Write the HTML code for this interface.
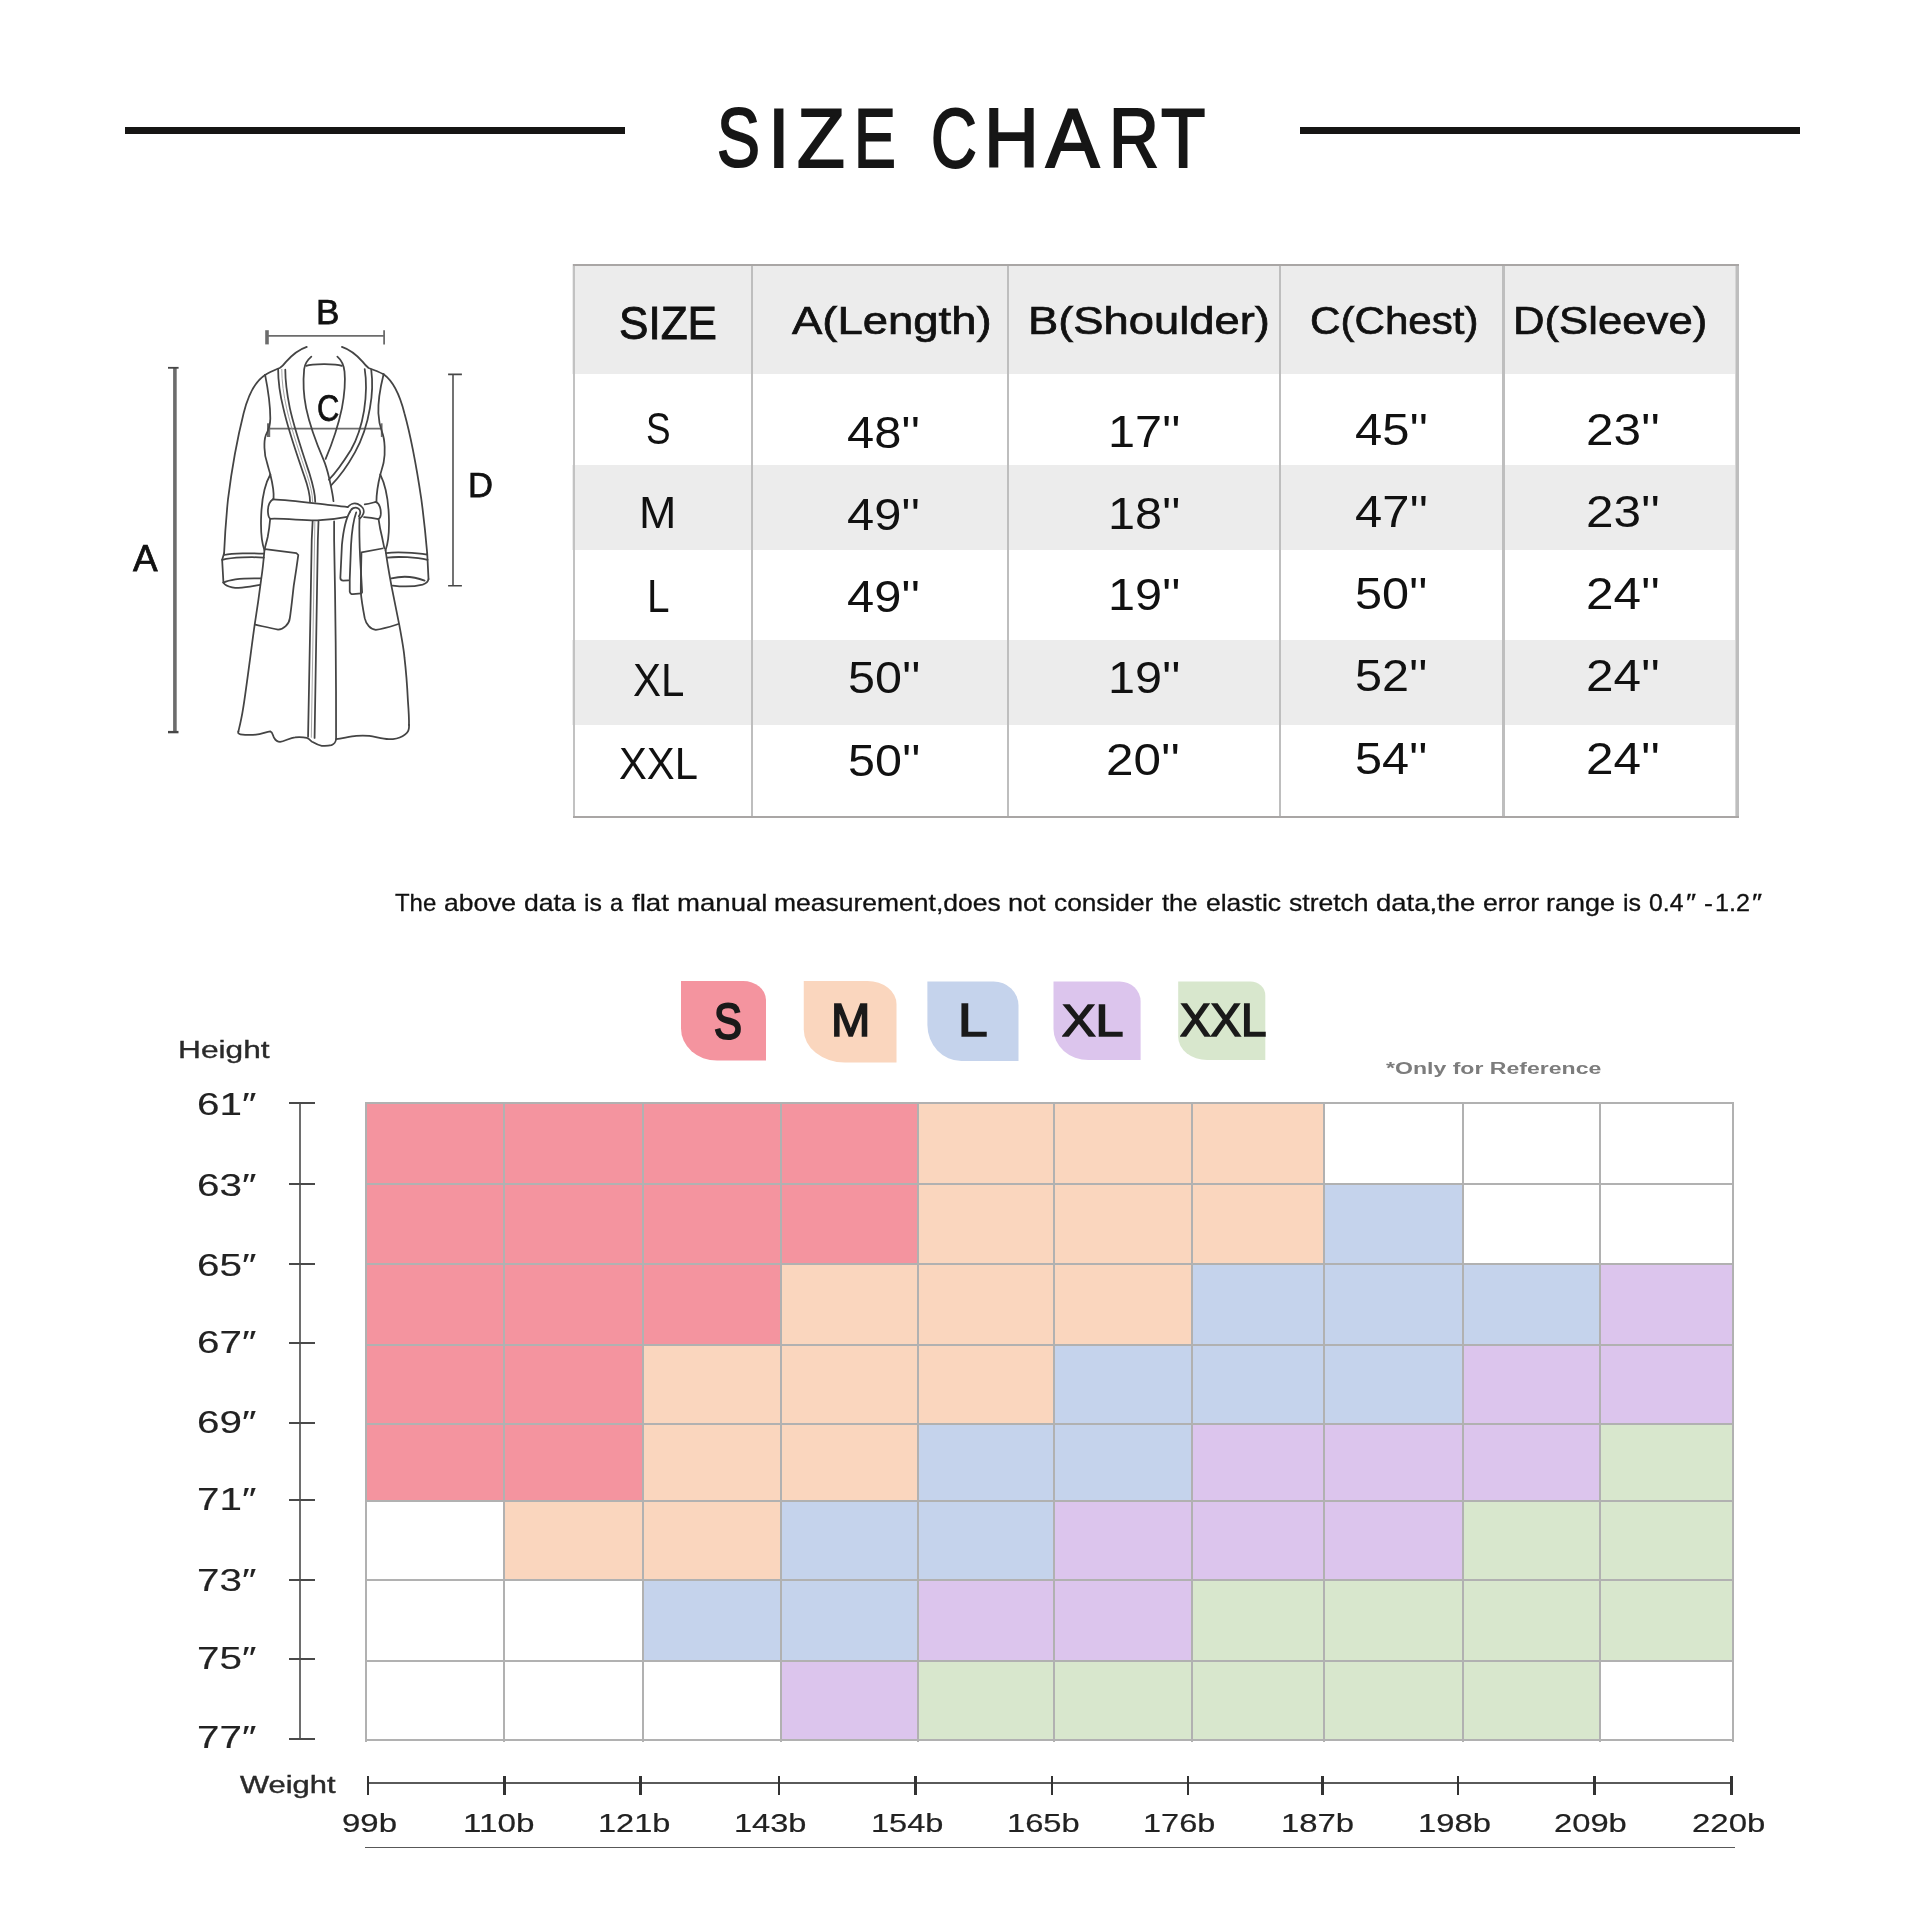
<!DOCTYPE html>
<html><head><meta charset="utf-8"><title>Size Chart</title>
<style>
html,body{margin:0;padding:0;background:#fff;}
body{width:1920px;height:1920px;position:relative;overflow:hidden;font-family:"Liberation Sans", sans-serif;}
.t{position:absolute;white-space:nowrap;line-height:1;transform-origin:0 0;font-family:"Liberation Sans", sans-serif;}
.r{position:absolute;}
svg{position:absolute;left:0;top:0;}
</style></head><body>
<div class="r" style="left:572.40px;top:264.00px;width:1166.60px;height:109.70px;background:#ececec;"></div>
<div class="r" style="left:572.40px;top:465.00px;width:1166.60px;height:84.50px;background:#ececec;"></div>
<div class="r" style="left:572.40px;top:640.00px;width:1166.60px;height:85.00px;background:#ececec;"></div>
<div class="r" style="left:750.60px;top:264.00px;width:2.60px;height:554.00px;background:#bebebe;"></div>
<div class="r" style="left:1006.70px;top:264.00px;width:2.60px;height:554.00px;background:#bebebe;"></div>
<div class="r" style="left:1278.60px;top:264.00px;width:2.60px;height:554.00px;background:#bebebe;"></div>
<div class="r" style="left:1502.45px;top:264.00px;width:2.60px;height:554.00px;background:#bebebe;"></div>
<div class="r" style="left:572.70px;top:264.00px;width:2.00px;height:554.00px;background:#c2c2c2;"></div>
<div class="r" style="left:1735.20px;top:264.00px;width:1.30px;height:554.00px;background:#d6d6d6;"></div>
<div class="r" style="left:1736.40px;top:264.00px;width:2.60px;height:554.00px;background:#bebebe;"></div>
<div class="r" style="left:572.70px;top:264.10px;width:1166.30px;height:1.80px;background:#a9a6a5;"></div>
<div class="r" style="left:572.70px;top:816.10px;width:1166.30px;height:1.80px;background:#a9a6a5;"></div>
<div class="r" style="left:125.00px;top:127.00px;width:500.00px;height:7.00px;background:#161514;"></div>
<div class="r" style="left:1300.00px;top:127.00px;width:500.00px;height:7.00px;background:#161514;"></div>
<div class="r" style="left:365.80px;top:1102.90px;width:138.20px;height:80.80px;background:#f4949f;"></div>
<div class="r" style="left:504.00px;top:1102.90px;width:138.60px;height:80.80px;background:#f4949f;"></div>
<div class="r" style="left:642.60px;top:1102.90px;width:138.60px;height:80.80px;background:#f4949f;"></div>
<div class="r" style="left:781.20px;top:1102.90px;width:137.00px;height:80.80px;background:#f4949f;"></div>
<div class="r" style="left:918.20px;top:1102.90px;width:135.40px;height:80.80px;background:#fad6be;"></div>
<div class="r" style="left:1053.60px;top:1102.90px;width:138.70px;height:80.80px;background:#fad6be;"></div>
<div class="r" style="left:1192.30px;top:1102.90px;width:131.70px;height:80.80px;background:#fad6be;"></div>
<div class="r" style="left:365.80px;top:1183.70px;width:138.20px;height:80.30px;background:#f4949f;"></div>
<div class="r" style="left:504.00px;top:1183.70px;width:138.60px;height:80.30px;background:#f4949f;"></div>
<div class="r" style="left:642.60px;top:1183.70px;width:138.60px;height:80.30px;background:#f4949f;"></div>
<div class="r" style="left:781.20px;top:1183.70px;width:137.00px;height:80.30px;background:#f4949f;"></div>
<div class="r" style="left:918.20px;top:1183.70px;width:135.40px;height:80.30px;background:#fad6be;"></div>
<div class="r" style="left:1053.60px;top:1183.70px;width:138.70px;height:80.30px;background:#fad6be;"></div>
<div class="r" style="left:1192.30px;top:1183.70px;width:131.70px;height:80.30px;background:#fad6be;"></div>
<div class="r" style="left:1324.00px;top:1183.70px;width:139.00px;height:80.30px;background:#c5d3ec;"></div>
<div class="r" style="left:365.80px;top:1264.00px;width:138.20px;height:80.60px;background:#f4949f;"></div>
<div class="r" style="left:504.00px;top:1264.00px;width:138.60px;height:80.60px;background:#f4949f;"></div>
<div class="r" style="left:642.60px;top:1264.00px;width:138.60px;height:80.60px;background:#f4949f;"></div>
<div class="r" style="left:781.20px;top:1264.00px;width:137.00px;height:80.60px;background:#fad6be;"></div>
<div class="r" style="left:918.20px;top:1264.00px;width:135.40px;height:80.60px;background:#fad6be;"></div>
<div class="r" style="left:1053.60px;top:1264.00px;width:138.70px;height:80.60px;background:#fad6be;"></div>
<div class="r" style="left:1192.30px;top:1264.00px;width:131.70px;height:80.60px;background:#c5d3ec;"></div>
<div class="r" style="left:1324.00px;top:1264.00px;width:139.00px;height:80.60px;background:#c5d3ec;"></div>
<div class="r" style="left:1463.00px;top:1264.00px;width:136.60px;height:80.60px;background:#c5d3ec;"></div>
<div class="r" style="left:1599.60px;top:1264.00px;width:133.40px;height:80.60px;background:#dcc5ed;"></div>
<div class="r" style="left:365.80px;top:1344.60px;width:138.20px;height:78.90px;background:#f4949f;"></div>
<div class="r" style="left:504.00px;top:1344.60px;width:138.60px;height:78.90px;background:#f4949f;"></div>
<div class="r" style="left:642.60px;top:1344.60px;width:138.60px;height:78.90px;background:#fad6be;"></div>
<div class="r" style="left:781.20px;top:1344.60px;width:137.00px;height:78.90px;background:#fad6be;"></div>
<div class="r" style="left:918.20px;top:1344.60px;width:135.40px;height:78.90px;background:#fad6be;"></div>
<div class="r" style="left:1053.60px;top:1344.60px;width:138.70px;height:78.90px;background:#c5d3ec;"></div>
<div class="r" style="left:1192.30px;top:1344.60px;width:131.70px;height:78.90px;background:#c5d3ec;"></div>
<div class="r" style="left:1324.00px;top:1344.60px;width:139.00px;height:78.90px;background:#c5d3ec;"></div>
<div class="r" style="left:1463.00px;top:1344.60px;width:136.60px;height:78.90px;background:#dcc5ed;"></div>
<div class="r" style="left:1599.60px;top:1344.60px;width:133.40px;height:78.90px;background:#dcc5ed;"></div>
<div class="r" style="left:365.80px;top:1423.50px;width:138.20px;height:77.70px;background:#f4949f;"></div>
<div class="r" style="left:504.00px;top:1423.50px;width:138.60px;height:77.70px;background:#f4949f;"></div>
<div class="r" style="left:642.60px;top:1423.50px;width:138.60px;height:77.70px;background:#fad6be;"></div>
<div class="r" style="left:781.20px;top:1423.50px;width:137.00px;height:77.70px;background:#fad6be;"></div>
<div class="r" style="left:918.20px;top:1423.50px;width:135.40px;height:77.70px;background:#c5d3ec;"></div>
<div class="r" style="left:1053.60px;top:1423.50px;width:138.70px;height:77.70px;background:#c5d3ec;"></div>
<div class="r" style="left:1192.30px;top:1423.50px;width:131.70px;height:77.70px;background:#dcc5ed;"></div>
<div class="r" style="left:1324.00px;top:1423.50px;width:139.00px;height:77.70px;background:#dcc5ed;"></div>
<div class="r" style="left:1463.00px;top:1423.50px;width:136.60px;height:77.70px;background:#dcc5ed;"></div>
<div class="r" style="left:1599.60px;top:1423.50px;width:133.40px;height:77.70px;background:#d8e7cd;"></div>
<div class="r" style="left:504.00px;top:1501.20px;width:138.60px;height:78.80px;background:#fad6be;"></div>
<div class="r" style="left:642.60px;top:1501.20px;width:138.60px;height:78.80px;background:#fad6be;"></div>
<div class="r" style="left:781.20px;top:1501.20px;width:137.00px;height:78.80px;background:#c5d3ec;"></div>
<div class="r" style="left:918.20px;top:1501.20px;width:135.40px;height:78.80px;background:#c5d3ec;"></div>
<div class="r" style="left:1053.60px;top:1501.20px;width:138.70px;height:78.80px;background:#dcc5ed;"></div>
<div class="r" style="left:1192.30px;top:1501.20px;width:131.70px;height:78.80px;background:#dcc5ed;"></div>
<div class="r" style="left:1324.00px;top:1501.20px;width:139.00px;height:78.80px;background:#dcc5ed;"></div>
<div class="r" style="left:1463.00px;top:1501.20px;width:136.60px;height:78.80px;background:#d8e7cd;"></div>
<div class="r" style="left:1599.60px;top:1501.20px;width:133.40px;height:78.80px;background:#d8e7cd;"></div>
<div class="r" style="left:642.60px;top:1580.00px;width:138.60px;height:80.60px;background:#c5d3ec;"></div>
<div class="r" style="left:781.20px;top:1580.00px;width:137.00px;height:80.60px;background:#c5d3ec;"></div>
<div class="r" style="left:918.20px;top:1580.00px;width:135.40px;height:80.60px;background:#dcc5ed;"></div>
<div class="r" style="left:1053.60px;top:1580.00px;width:138.70px;height:80.60px;background:#dcc5ed;"></div>
<div class="r" style="left:1192.30px;top:1580.00px;width:131.70px;height:80.60px;background:#d8e7cd;"></div>
<div class="r" style="left:1324.00px;top:1580.00px;width:139.00px;height:80.60px;background:#d8e7cd;"></div>
<div class="r" style="left:1463.00px;top:1580.00px;width:136.60px;height:80.60px;background:#d8e7cd;"></div>
<div class="r" style="left:1599.60px;top:1580.00px;width:133.40px;height:80.60px;background:#d8e7cd;"></div>
<div class="r" style="left:781.20px;top:1660.60px;width:137.00px;height:78.90px;background:#dcc5ed;"></div>
<div class="r" style="left:918.20px;top:1660.60px;width:135.40px;height:78.90px;background:#d8e7cd;"></div>
<div class="r" style="left:1053.60px;top:1660.60px;width:138.70px;height:78.90px;background:#d8e7cd;"></div>
<div class="r" style="left:1192.30px;top:1660.60px;width:131.70px;height:78.90px;background:#d8e7cd;"></div>
<div class="r" style="left:1324.00px;top:1660.60px;width:139.00px;height:78.90px;background:#d8e7cd;"></div>
<div class="r" style="left:1463.00px;top:1660.60px;width:136.60px;height:78.90px;background:#d8e7cd;"></div>
<div class="r" style="left:364.80px;top:1101.90px;width:2.00px;height:640.60px;background:#b1b1b1;"></div>
<div class="r" style="left:503.00px;top:1101.90px;width:2.00px;height:640.60px;background:#b1b1b1;"></div>
<div class="r" style="left:641.60px;top:1101.90px;width:2.00px;height:640.60px;background:#b1b1b1;"></div>
<div class="r" style="left:780.20px;top:1101.90px;width:2.00px;height:640.60px;background:#b1b1b1;"></div>
<div class="r" style="left:917.20px;top:1101.90px;width:2.00px;height:640.60px;background:#b1b1b1;"></div>
<div class="r" style="left:1052.60px;top:1101.90px;width:2.00px;height:640.60px;background:#b1b1b1;"></div>
<div class="r" style="left:1191.30px;top:1101.90px;width:2.00px;height:640.60px;background:#b1b1b1;"></div>
<div class="r" style="left:1323.00px;top:1101.90px;width:2.00px;height:640.60px;background:#b1b1b1;"></div>
<div class="r" style="left:1462.00px;top:1101.90px;width:2.00px;height:640.60px;background:#b1b1b1;"></div>
<div class="r" style="left:1598.60px;top:1101.90px;width:2.00px;height:640.60px;background:#b1b1b1;"></div>
<div class="r" style="left:1732.00px;top:1101.90px;width:2.00px;height:640.60px;background:#b1b1b1;"></div>
<div class="r" style="left:364.80px;top:1101.90px;width:1369.20px;height:2.00px;background:#b1b1b1;"></div>
<div class="r" style="left:364.80px;top:1182.70px;width:1369.20px;height:2.00px;background:#b1b1b1;"></div>
<div class="r" style="left:364.80px;top:1263.00px;width:1369.20px;height:2.00px;background:#b1b1b1;"></div>
<div class="r" style="left:364.80px;top:1343.60px;width:1369.20px;height:2.00px;background:#b1b1b1;"></div>
<div class="r" style="left:364.80px;top:1422.50px;width:1369.20px;height:2.00px;background:#b1b1b1;"></div>
<div class="r" style="left:364.80px;top:1500.20px;width:1369.20px;height:2.00px;background:#b1b1b1;"></div>
<div class="r" style="left:364.80px;top:1579.00px;width:1369.20px;height:2.00px;background:#b1b1b1;"></div>
<div class="r" style="left:364.80px;top:1659.60px;width:1369.20px;height:2.00px;background:#b1b1b1;"></div>
<div class="r" style="left:364.80px;top:1738.50px;width:1369.20px;height:2.00px;background:#b1b1b1;"></div>
<div class="r" style="left:299.00px;top:1102.00px;width:2.00px;height:637.50px;background:#6e6e6e;"></div>
<div class="r" style="left:289.00px;top:1102.10px;width:26.00px;height:2.00px;background:#4a4a4a;"></div>
<div class="r" style="left:289.00px;top:1182.60px;width:26.00px;height:2.00px;background:#4a4a4a;"></div>
<div class="r" style="left:289.00px;top:1262.80px;width:26.00px;height:2.00px;background:#4a4a4a;"></div>
<div class="r" style="left:289.00px;top:1341.60px;width:26.00px;height:2.00px;background:#4a4a4a;"></div>
<div class="r" style="left:289.00px;top:1422.20px;width:26.00px;height:2.00px;background:#4a4a4a;"></div>
<div class="r" style="left:289.00px;top:1498.80px;width:26.00px;height:2.00px;background:#4a4a4a;"></div>
<div class="r" style="left:289.00px;top:1579.10px;width:26.00px;height:2.00px;background:#4a4a4a;"></div>
<div class="r" style="left:289.00px;top:1658.20px;width:26.00px;height:2.00px;background:#4a4a4a;"></div>
<div class="r" style="left:289.00px;top:1738.40px;width:26.00px;height:2.00px;background:#4a4a4a;"></div>
<div class="r" style="left:367.00px;top:1782.30px;width:1364.50px;height:2.00px;background:#5a5a5a;"></div>
<div class="r" style="left:366.85px;top:1775.60px;width:2.50px;height:19.60px;background:#333;"></div>
<div class="r" style="left:503.05px;top:1775.60px;width:2.50px;height:19.60px;background:#333;"></div>
<div class="r" style="left:639.15px;top:1775.60px;width:2.50px;height:19.60px;background:#333;"></div>
<div class="r" style="left:777.75px;top:1775.60px;width:2.50px;height:19.60px;background:#333;"></div>
<div class="r" style="left:914.35px;top:1775.60px;width:2.50px;height:19.60px;background:#333;"></div>
<div class="r" style="left:1050.65px;top:1775.60px;width:2.50px;height:19.60px;background:#333;"></div>
<div class="r" style="left:1186.75px;top:1775.60px;width:2.50px;height:19.60px;background:#333;"></div>
<div class="r" style="left:1321.00px;top:1775.60px;width:2.50px;height:19.60px;background:#333;"></div>
<div class="r" style="left:1456.65px;top:1775.60px;width:2.50px;height:19.60px;background:#333;"></div>
<div class="r" style="left:1593.15px;top:1775.60px;width:2.50px;height:19.60px;background:#333;"></div>
<div class="r" style="left:1730.05px;top:1775.60px;width:2.50px;height:19.60px;background:#333;"></div>
<div class="r" style="left:365.00px;top:1846.60px;width:1369.50px;height:1.80px;background:#585858;"></div>
<svg width="1920" height="1920" viewBox="0 0 1920 1920">
<path d="M681,981 L743,981 A23,19 0 0 1 766,1000 L766,1060.6 L717,1060.6 A36,32 0 0 1 681,1028.6 Z" fill="#f4949f"/><path d="M803.75,981 L867.5,981 A29,23 0 0 1 896.5,1004 L896.5,1062.5 L844.75,1062.5 A41,33 0 0 1 803.75,1029.5 Z" fill="#fad6be"/><path d="M927.4,981.5 L993.5,981.5 A25,24 0 0 1 1018.5,1005.5 L1018.5,1061 L961.4,1061 A34,36 0 0 1 927.4,1025 Z" fill="#c5d3ec"/><path d="M1053.5,981.5 L1119.6,981.5 A21,20 0 0 1 1140.6,1001.5 L1140.6,1060 L1088.5,1060 A35,31 0 0 1 1053.5,1029 Z" fill="#dcc5ed"/><path d="M1178.2,981.5 L1250.3,981.5 A15,14 0 0 1 1265.3,995.5 L1265.3,1060 L1207.2,1060 A29,23 0 0 1 1178.2,1037 Z" fill="#d8e7cd"/>
<g fill="none" stroke-linecap="butt">
 <!-- measurement lines -->
 <g stroke="#6c6c6c">
  <path d="M174.9,368 V731.5" stroke-width="3.6"/>
  <path d="M267,335.8 H384.5" stroke-width="1.8"/>
  <path d="M267,330.2 V344.4" stroke-width="3.6"/>
  <path d="M384.1,330.2 V344.4" stroke-width="1.8"/>
  <path d="M268.5,428.7 H382" stroke-width="1.8"/>
  <path d="M268.6,423.3 V437" stroke-width="3.2"/>
  <path d="M381.7,423.3 V437" stroke-width="1.7"/>
  <path d="M453,374 V586" stroke-width="1.9"/>
 </g>
 <g stroke="#474747">
  <path d="M168,367.8 H178.6" stroke-width="1.8"/>
  <path d="M168,732.1 H178.5" stroke-width="2.4"/>
  <path d="M448.1,374.4 H461.9 M448.1,585.7 H461.9" stroke-width="1.6"/>
 </g>
 <!-- robe -->
 <g transform="translate(200,330) scale(0.130208)" stroke="#444" stroke-width="13.5" stroke-linecap="round" stroke-linejoin="round">
  <path d="M820,130 C760,150 700,200 660,245 C645,265 630,280 615,290 C580,305 540,320 500,345"/>
  <path d="M500,345 C430,390 370,500 335,640 C290,820 240,1100 215,1300 C200,1450 190,1600 185,1715"/>
  <path d="M1090,130 C1150,150 1210,200 1250,245 C1265,265 1280,280 1295,292 C1330,305 1370,320 1410,340"/>
  <path d="M1410,340 C1480,390 1535,500 1570,640 C1620,820 1670,1100 1700,1300 C1720,1450 1735,1600 1745,1715"/>
  <path d="M855,205 C820,235 805,260 800,300 C790,400 795,500 815,600 C840,720 890,860 950,1000 C975,1060 985,1110 995,1150 C1005,1200 1020,1260 1025,1315"/>
  <path d="M1055,205 C1090,235 1105,270 1110,320 C1120,420 1105,520 1090,600 C1065,720 1020,860 965,990"/>
  <path d="M815,275 C860,258 1040,256 1090,275"/>
  <path d="M600,300 C600,400 615,500 640,600 C680,780 760,1000 800,1120 C825,1190 845,1260 845,1320"/>
  <path d="M655,305 C655,400 670,500 690,600 C725,760 800,980 840,1100 C865,1180 885,1250 885,1320"/>
  <path d="M628,302 C628,400 643,500 665,600 C703,770 780,990 820,1110 C845,1185 865,1255 865,1320" stroke="#9a9a9a" stroke-width="7"/>
  <path d="M1315,305 C1330,420 1320,520 1305,600 C1285,720 1240,850 1190,940 C1140,1030 1070,1130 1005,1195"/>
  <path d="M1265,300 C1285,420 1275,520 1260,620 C1240,740 1200,850 1160,920 C1110,1000 1050,1090 990,1150"/>
  <path d="M500,345 C515,420 540,560 540,680 C540,740 520,780 505,810 C490,850 490,950 515,1020 C525,1060 535,1090 540,1110 C555,1170 570,1240 565,1300"/>
  <path d="M540,1110 C500,1180 475,1300 470,1420 C465,1540 475,1640 495,1690"/>
  <path d="M1410,340 C1390,420 1365,520 1370,640 C1372,700 1385,750 1400,790 C1420,840 1425,950 1410,1020 C1400,1060 1390,1090 1385,1110 C1370,1170 1355,1240 1355,1320"/>
  <path d="M1385,1110 C1420,1180 1445,1300 1450,1420 C1455,1540 1445,1640 1425,1690"/>
  <!-- belt -->
  <path d="M560,1300 C530,1320 520,1360 522,1400 C524,1430 530,1445 540,1450"/>
  <path d="M560,1300 C700,1305 900,1335 1000,1345 C1050,1350 1100,1355 1135,1360"/>
  <path d="M540,1450 C650,1445 800,1465 900,1462 C1000,1458 1080,1445 1130,1435"/>
  <path d="M1265,1340 C1300,1335 1330,1325 1350,1320 C1380,1330 1392,1380 1388,1420 C1385,1440 1378,1450 1370,1452 C1330,1445 1290,1440 1260,1437"/>
  <path d="M1135,1360 C1150,1340 1180,1325 1210,1335 C1245,1350 1265,1380 1255,1410 C1250,1425 1240,1440 1225,1450"/>
  <path d="M1150,1400 C1160,1370 1190,1355 1215,1370 C1235,1385 1235,1410 1220,1430"/>
  <path d="M1150,1400 C1120,1450 1100,1550 1090,1650 L1078,1903 C1078,1920 1090,1925 1100,1925 L1140,1923"/>
  <path d="M1200,1400 C1175,1470 1165,1560 1160,1650 L1150,1915 L1150,2010 C1152,2025 1165,2030 1175,2028 L1240,2023"/>
  <path d="M1225,1440 C1222,1550 1225,1650 1230,1750 L1245,2015"/>
  <!-- placket -->
  <path d="M865,1470 L858,1613 C850,2100 838,2700 830,3123"/>
  <path d="M910,1470 L905,1613 C897,2100 887,2700 880,3133"/>
  <path d="M1030,1470 L1030,1613 C1040,2100 1046,2700 1045,3143"/>
  <path d="M539,1450 C535,1500 528,1551 520,1590 C512,1625 502,1655 497,1683"/>
  <path d="M1371,1450 C1378,1500 1388,1551 1398,1590 C1405,1625 1412,1655 1416,1678"/>
  <path d="M882,1470 L880,1613 C872,2100 862,2700 855,3128" stroke="#aaa" stroke-width="8"/>
  <!-- left cuff -->
  <path d="M185,1728 C250,1715 400,1712 490,1718"/>
  <path d="M170,1765 C250,1745 400,1742 490,1748"/>
  <path d="M185,1715 L170,1765 L180,1940"/>
  <path d="M180,1940 C230,1915 350,1905 470,1908"/>
  <path d="M180,1940 C200,1975 280,1990 350,1975 C400,1970 440,1960 462,1958"/>
  <!-- left side & pocket -->
  <path d="M495,1690 C490,1750 480,1850 470,1913 C450,2070 430,2200 420,2263 C400,2400 350,2800 330,2913 C318,2990 300,3060 295,3083"/>
  <path d="M500,1683 L740,1713 L755,1728 C745,1800 730,1900 720,1963 C710,2050 700,2150 690,2213 C685,2260 640,2300 600,2301 C540,2290 480,2275 425,2263"/>
  <!-- hem -->
  <path d="M295,3083 C290,3095 295,3103 310,3105 C350,3110 400,3110 430,3108 C470,3105 510,3085 540,3083 C560,3090 560,3120 570,3133 C580,3150 595,3163 615,3163 C650,3160 690,3130 730,3128 C770,3125 800,3128 820,3133 C840,3140 850,3155 865,3165 C890,3180 910,3190 935,3193 C960,3195 990,3193 1010,3188 C1030,3180 1042,3170 1045,3143 C1100,3135 1160,3122 1200,3118 C1240,3114 1270,3115 1300,3118 C1350,3125 1400,3140 1450,3143 C1490,3143 1530,3135 1555,3120 C1580,3105 1598,3090 1602,3070 C1606,3055 1606,3045 1605,3033"/>
  <!-- right side & pocket -->
  <path d="M1425,1690 C1440,1800 1455,1880 1470,1963 C1490,2060 1510,2160 1530,2263 C1550,2370 1565,2450 1570,2513 C1585,2640 1592,2750 1597,2850 C1603,2930 1606,2990 1605,3033"/>
  <path d="M1400,1678 L1240,1708 C1238,1800 1235,1900 1235,2013 C1240,2080 1255,2160 1265,2213 C1275,2260 1310,2300 1350,2303 C1410,2295 1470,2275 1525,2258"/>
  <!-- right cuff -->
  <path d="M1430,1713 C1500,1705 1650,1708 1745,1725"/>
  <path d="M1440,1748 C1520,1738 1660,1745 1748,1765"/>
  <path d="M1470,1908 C1550,1888 1650,1895 1725,1925"/>
  <path d="M1480,1963 C1550,1972 1650,1970 1710,1955 C1740,1945 1752,1930 1755,1913"/>
  <path d="M1745,1715 L1755,1913"/>
 </g>
</g>

</svg>
<div style="position:absolute;left:0;top:0;width:1920px;height:1920px;will-change:transform">
<div class="t" style="left:717.18px;top:96.98px;font-size:82.96px;transform:scaleX(0.7762);color:#161616;-webkit-text-stroke:2.2px #161616;">S</div>
<div class="t" style="left:767.52px;top:95.92px;font-size:84.20px;transform:scaleX(0.9228);color:#161616;-webkit-text-stroke:2.2px #161616;">I</div>
<div class="t" style="left:797.47px;top:95.92px;font-size:84.20px;transform:scaleX(0.9297);color:#161616;-webkit-text-stroke:2.2px #161616;">Z</div>
<div class="t" style="left:854.01px;top:95.92px;font-size:84.20px;transform:scaleX(0.7442);color:#161616;-webkit-text-stroke:2.2px #161616;">E</div>
<div class="t" style="left:930.96px;top:95.97px;font-size:84.14px;transform:scaleX(0.7529);color:#161616;-webkit-text-stroke:2.2px #161616;">C</div>
<div class="t" style="left:983.61px;top:95.92px;font-size:84.20px;transform:scaleX(0.9025);color:#161616;-webkit-text-stroke:2.2px #161616;">H</div>
<div class="t" style="left:1046.04px;top:95.92px;font-size:84.20px;transform:scaleX(0.9468);color:#161616;-webkit-text-stroke:2.2px #161616;">A</div>
<div class="t" style="left:1108.90px;top:96.94px;font-size:83.00px;transform:scaleX(0.8308);color:#161616;-webkit-text-stroke:2.2px #161616;">R</div>
<div class="t" style="left:1161.40px;top:95.92px;font-size:84.20px;transform:scaleX(0.8626);color:#161616;-webkit-text-stroke:2.2px #161616;">T</div>
<div class="t" style="left:619.41px;top:300.30px;font-size:46.90px;transform:scaleX(0.9406);color:#111;-webkit-text-stroke:0.9px #111;">SIZE</div>
<div class="t" style="left:792.40px;top:300.74px;font-size:39.59px;transform:scaleX(1.1481);color:#111;-webkit-text-stroke:0.7px #111;">A(Length)</div>
<div class="t" style="left:1028.02px;top:300.74px;font-size:39.59px;transform:scaleX(1.1455);color:#111;-webkit-text-stroke:0.7px #111;">B(Shoulder)</div>
<div class="t" style="left:1309.52px;top:300.74px;font-size:39.59px;transform:scaleX(1.0645);color:#111;-webkit-text-stroke:0.7px #111;">C(Chest)</div>
<div class="t" style="left:1512.64px;top:300.74px;font-size:39.59px;transform:scaleX(1.1039);color:#111;-webkit-text-stroke:0.7px #111;">D(Sleeve)</div>
<div class="t" style="left:645.53px;top:406.35px;font-size:45.07px;transform:scaleX(0.8179);color:#111;">S</div>
<div class="t" style="left:638.91px;top:490.41px;font-size:45.29px;transform:scaleX(0.9904);color:#111;">M</div>
<div class="t" style="left:647.26px;top:573.86px;font-size:45.65px;transform:scaleX(0.8884);color:#111;">L</div>
<div class="t" style="left:633.41px;top:658.36px;font-size:45.65px;transform:scaleX(0.9212);color:#111;">XL</div>
<div class="t" style="left:619.16px;top:742.47px;font-size:44.93px;transform:scaleX(0.9294);color:#111;">XXL</div>
<div class="t" style="left:847.02px;top:410.51px;font-size:44.29px;transform:scaleX(1.1029);color:#111;">48''</div>
<div class="t" style="left:847.02px;top:492.51px;font-size:44.29px;transform:scaleX(1.1029);color:#111;">49''</div>
<div class="t" style="left:847.02px;top:575.01px;font-size:44.29px;transform:scaleX(1.1029);color:#111;">49''</div>
<div class="t" style="left:847.56px;top:656.26px;font-size:44.29px;transform:scaleX(1.0945);color:#111;">50''</div>
<div class="t" style="left:847.56px;top:738.51px;font-size:44.29px;transform:scaleX(1.0945);color:#111;">50''</div>
<div class="t" style="left:1107.60px;top:410.01px;font-size:44.29px;transform:scaleX(1.0978);color:#111;">17''</div>
<div class="t" style="left:1107.60px;top:491.76px;font-size:44.29px;transform:scaleX(1.0978);color:#111;">18''</div>
<div class="t" style="left:1107.60px;top:573.11px;font-size:44.29px;transform:scaleX(1.0978);color:#111;">19''</div>
<div class="t" style="left:1107.60px;top:656.26px;font-size:44.29px;transform:scaleX(1.0978);color:#111;">19''</div>
<div class="t" style="left:1106.43px;top:738.01px;font-size:44.29px;transform:scaleX(1.1160);color:#111;">20''</div>
<div class="t" style="left:1354.62px;top:408.11px;font-size:44.29px;transform:scaleX(1.1044);color:#111;">45''</div>
<div class="t" style="left:1354.62px;top:489.91px;font-size:44.29px;transform:scaleX(1.1044);color:#111;">47''</div>
<div class="t" style="left:1355.06px;top:572.01px;font-size:44.29px;transform:scaleX(1.0977);color:#111;">50''</div>
<div class="t" style="left:1355.06px;top:654.41px;font-size:44.29px;transform:scaleX(1.0977);color:#111;">52''</div>
<div class="t" style="left:1355.06px;top:736.91px;font-size:44.29px;transform:scaleX(1.0977);color:#111;">54''</div>
<div class="t" style="left:1586.33px;top:408.11px;font-size:44.29px;transform:scaleX(1.1168);color:#111;">23''</div>
<div class="t" style="left:1586.33px;top:489.91px;font-size:44.29px;transform:scaleX(1.1168);color:#111;">23''</div>
<div class="t" style="left:1586.33px;top:572.01px;font-size:44.29px;transform:scaleX(1.1168);color:#111;">24''</div>
<div class="t" style="left:1586.33px;top:654.41px;font-size:44.29px;transform:scaleX(1.1168);color:#111;">24''</div>
<div class="t" style="left:1586.33px;top:736.91px;font-size:44.29px;transform:scaleX(1.1168);color:#111;">24''</div>
<div class="t" style="left:316.28px;top:295.02px;font-size:34.24px;transform:scaleX(1.0240);color:#111;-webkit-text-stroke:0.75px #111;">B</div>
<div class="t" style="left:316.76px;top:389.89px;font-size:37.46px;transform:scaleX(0.8250);color:#111;-webkit-text-stroke:0.75px #111;">C</div>
<div class="t" style="left:468.10px;top:467.90px;font-size:34.96px;transform:scaleX(0.9895);color:#111;-webkit-text-stroke:0.75px #111;">D</div>
<div class="t" style="left:133.38px;top:540.68px;font-size:36.41px;transform:scaleX(1.0140);color:#111;-webkit-text-stroke:0.75px #111;">A</div>
<div class="t" style="left:394.97px;top:891.38px;font-size:24.00px;transform:scaleX(0.9973);color:#111;-webkit-text-stroke:0.3px #111;">The</div>
<div class="t" style="left:443.71px;top:891.38px;font-size:24.00px;transform:scaleX(1.1024);color:#111;-webkit-text-stroke:0.3px #111;">above</div>
<div class="t" style="left:523.70px;top:891.38px;font-size:24.00px;transform:scaleX(1.1074);color:#111;-webkit-text-stroke:0.3px #111;">data</div>
<div class="t" style="left:583.97px;top:891.38px;font-size:24.00px;transform:scaleX(1.0341);color:#111;-webkit-text-stroke:0.3px #111;">is</div>
<div class="t" style="left:609.61px;top:891.38px;font-size:24.00px;transform:scaleX(0.9781);color:#111;-webkit-text-stroke:0.3px #111;">a</div>
<div class="t" style="left:631.90px;top:891.38px;font-size:24.00px;transform:scaleX(1.1548);color:#111;-webkit-text-stroke:0.3px #111;">flat</div>
<div class="t" style="left:676.72px;top:891.38px;font-size:24.00px;transform:scaleX(1.1487);color:#111;-webkit-text-stroke:0.3px #111;">manual</div>
<div class="t" style="left:774.18px;top:891.38px;font-size:24.00px;transform:scaleX(1.1037);color:#111;-webkit-text-stroke:0.3px #111;">measurement,does</div>
<div class="t" style="left:1008.45px;top:891.38px;font-size:24.00px;transform:scaleX(1.1278);color:#111;-webkit-text-stroke:0.3px #111;">not</div>
<div class="t" style="left:1054.31px;top:891.38px;font-size:24.00px;transform:scaleX(1.0942);color:#111;-webkit-text-stroke:0.3px #111;">consider</div>
<div class="t" style="left:1162.40px;top:891.38px;font-size:24.00px;transform:scaleX(1.0659);color:#111;-webkit-text-stroke:0.3px #111;">the</div>
<div class="t" style="left:1205.91px;top:891.38px;font-size:24.00px;transform:scaleX(1.1033);color:#111;-webkit-text-stroke:0.3px #111;">elastic</div>
<div class="t" style="left:1289.04px;top:891.38px;font-size:24.00px;transform:scaleX(1.1050);color:#111;-webkit-text-stroke:0.3px #111;">stretch</div>
<div class="t" style="left:1375.97px;top:891.38px;font-size:24.00px;transform:scaleX(1.1442);color:#111;-webkit-text-stroke:0.3px #111;">data,the</div>
<div class="t" style="left:1482.60px;top:891.38px;font-size:24.00px;transform:scaleX(1.1087);color:#111;-webkit-text-stroke:0.3px #111;">error</div>
<div class="t" style="left:1546.25px;top:891.38px;font-size:24.00px;transform:scaleX(1.1250);color:#111;-webkit-text-stroke:0.3px #111;">range</div>
<div class="t" style="left:1623.06px;top:891.38px;font-size:24.00px;transform:scaleX(1.0406);color:#111;-webkit-text-stroke:0.3px #111;">is</div>
<div class="t" style="left:1649.11px;top:891.38px;font-size:24.00px;transform:scaleX(1.0305);color:#111;-webkit-text-stroke:0.3px #111;">0.4</div>
<div class="t" style="left:1685.74px;top:891.38px;font-size:24.00px;transform:scaleX(1.1867);color:#111;-webkit-text-stroke:0.3px #111;">″</div>
<div class="t" style="left:1704.10px;top:891.38px;font-size:24.00px;transform:scaleX(1.1111);color:#111;-webkit-text-stroke:0.3px #111;">-</div>
<div class="t" style="left:1715.10px;top:891.38px;font-size:24.00px;transform:scaleX(1.0461);color:#111;-webkit-text-stroke:0.3px #111;">1.2</div>
<div class="t" style="left:1751.84px;top:891.38px;font-size:24.00px;transform:scaleX(1.1867);color:#111;-webkit-text-stroke:0.3px #111;">″</div>
<div class="t" style="left:714.26px;top:997.09px;font-size:49.51px;transform:scaleX(0.8437);color:#1a1a1a;-webkit-text-stroke:2.2px #1a1a1a;">S</div>
<div class="t" style="left:830.78px;top:997.21px;font-size:46.88px;transform:scaleX(1.0080);color:#1a1a1a;-webkit-text-stroke:1.6px #1a1a1a;">M</div>
<div class="t" style="left:957.68px;top:997.66px;font-size:45.65px;transform:scaleX(1.1651);color:#1a1a1a;-webkit-text-stroke:1.6px #1a1a1a;">L</div>
<div class="t" style="left:1062.29px;top:998.39px;font-size:44.78px;transform:scaleX(1.1232);color:#1a1a1a;-webkit-text-stroke:1.6px #1a1a1a;">XL</div>
<div class="t" style="left:1180.09px;top:998.26px;font-size:45.65px;transform:scaleX(1.0037);color:#1a1a1a;-webkit-text-stroke:1.6px #1a1a1a;">XXL</div>
<div class="t" style="left:1386.30px;top:1059.97px;font-size:17.40px;transform:scaleX(1.3261);color:#7c7c7c;font-weight:bold;">*Only for Reference</div>
<div class="t" style="left:178.09px;top:1038.33px;font-size:24.42px;transform:scaleX(1.2979);color:#2a2a2a;-webkit-text-stroke:0.35px #2a2a2a;">Height</div>
<div class="t" style="left:197.48px;top:1089.11px;font-size:31.18px;transform:scaleX(1.2958);color:#222;-webkit-text-stroke:0.15px #222;">61″</div>
<div class="t" style="left:197.48px;top:1170.11px;font-size:31.18px;transform:scaleX(1.2958);color:#222;-webkit-text-stroke:0.15px #222;">63″</div>
<div class="t" style="left:197.48px;top:1250.31px;font-size:31.18px;transform:scaleX(1.2958);color:#222;-webkit-text-stroke:0.15px #222;">65″</div>
<div class="t" style="left:197.48px;top:1326.81px;font-size:31.18px;transform:scaleX(1.2958);color:#222;-webkit-text-stroke:0.15px #222;">67″</div>
<div class="t" style="left:197.48px;top:1407.01px;font-size:31.18px;transform:scaleX(1.2958);color:#222;-webkit-text-stroke:0.15px #222;">69″</div>
<div class="t" style="left:197.48px;top:1484.31px;font-size:31.18px;transform:scaleX(1.2958);color:#222;-webkit-text-stroke:0.15px #222;">71″</div>
<div class="t" style="left:197.48px;top:1564.51px;font-size:31.18px;transform:scaleX(1.2958);color:#222;-webkit-text-stroke:0.15px #222;">73″</div>
<div class="t" style="left:197.48px;top:1643.31px;font-size:31.18px;transform:scaleX(1.2958);color:#222;-webkit-text-stroke:0.15px #222;">75″</div>
<div class="t" style="left:197.48px;top:1721.71px;font-size:31.18px;transform:scaleX(1.2958);color:#222;-webkit-text-stroke:0.15px #222;">77″</div>
<div class="t" style="left:239.76px;top:1774.06px;font-size:23.56px;transform:scaleX(1.3114);color:#2a2a2a;-webkit-text-stroke:0.4px #2a2a2a;">Weight</div>
<div class="t" style="left:341.61px;top:1811.30px;font-size:25.75px;transform:scaleX(1.2813);color:#222;-webkit-text-stroke:0.2px #222;">99b</div>
<div class="t" style="left:462.70px;top:1811.30px;font-size:25.75px;transform:scaleX(1.2905);color:#222;-webkit-text-stroke:0.2px #222;">110b</div>
<div class="t" style="left:597.65px;top:1811.30px;font-size:25.75px;transform:scaleX(1.2638);color:#222;-webkit-text-stroke:0.2px #222;">121b</div>
<div class="t" style="left:734.35px;top:1811.30px;font-size:25.75px;transform:scaleX(1.2656);color:#222;-webkit-text-stroke:0.2px #222;">143b</div>
<div class="t" style="left:871.05px;top:1811.30px;font-size:25.75px;transform:scaleX(1.2656);color:#222;-webkit-text-stroke:0.2px #222;">154b</div>
<div class="t" style="left:1006.74px;top:1811.30px;font-size:25.75px;transform:scaleX(1.2692);color:#222;-webkit-text-stroke:0.2px #222;">165b</div>
<div class="t" style="left:1143.25px;top:1811.30px;font-size:25.75px;transform:scaleX(1.2619);color:#222;-webkit-text-stroke:0.2px #222;">176b</div>
<div class="t" style="left:1281.43px;top:1811.30px;font-size:25.75px;transform:scaleX(1.2747);color:#222;-webkit-text-stroke:0.2px #222;">187b</div>
<div class="t" style="left:1417.53px;top:1811.30px;font-size:25.75px;transform:scaleX(1.2747);color:#222;-webkit-text-stroke:0.2px #222;">198b</div>
<div class="t" style="left:1553.89px;top:1811.30px;font-size:25.75px;transform:scaleX(1.2701);color:#222;-webkit-text-stroke:0.2px #222;">209b</div>
<div class="t" style="left:1692.38px;top:1811.30px;font-size:25.75px;transform:scaleX(1.2791);color:#222;-webkit-text-stroke:0.2px #222;">220b</div>
</div>
</body></html>
